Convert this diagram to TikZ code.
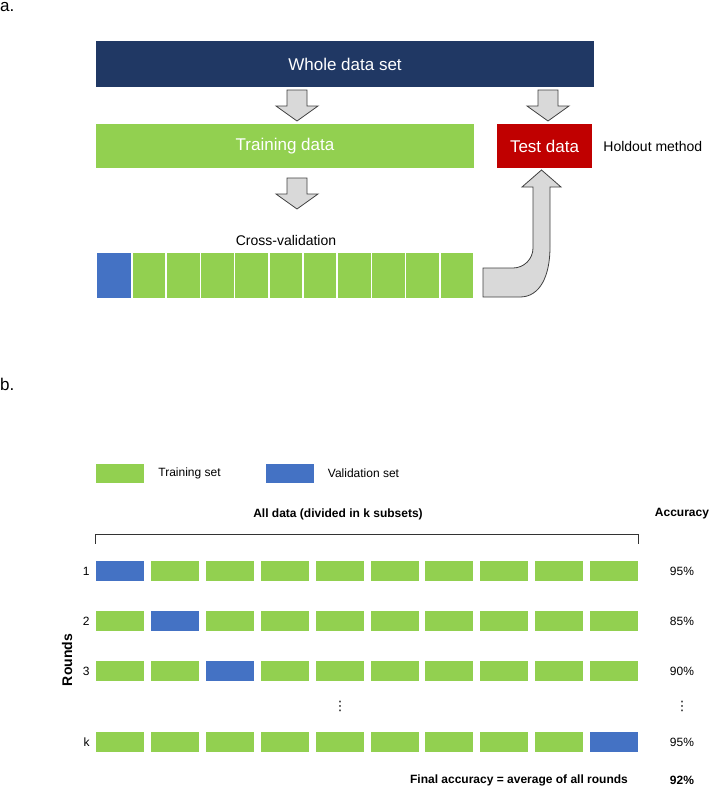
\documentclass[tikz,border=0pt]{standalone}
\usepackage{fontspec}
\setmainfont{Liberation Sans}
\newfontfamily\symfont{DejaVu Sans}
\usetikzlibrary{positioning,calc}

\definecolor{navy}{HTML}{203864}
\definecolor{trgreen}{HTML}{92D050}
\definecolor{valblue}{HTML}{4472C4}
\definecolor{testred}{HTML}{C00000}
\definecolor{arrowgray}{HTML}{D9D9D9}

\begin{document}
\begin{tikzpicture}[
x=1pt,
y=-1pt,
box/.style={
  draw=none,
  inner sep=0pt,
  text=white,
  font=\fontsize{17}{20}\selectfont
  },
cell/.style={
  fill=trgreen,
  draw=white,
  line width=1.5pt,
  inner sep=0pt,
  minimum height=46pt
  },
subset/.style={
  fill=trgreen,
  inner sep=0pt,
  minimum width=48pt,
  minimum height=20pt
  },
panel/.style={
  inner sep=0pt,
  font=\fontsize{17}{20}\selectfont
  },
label/.style={
  inner sep=0pt,
  font=\fontsize{14}{16}\selectfont
  },
small/.style={
  inner sep=0pt,
  font=\fontsize{12}{14}\selectfont
  },
bold/.style={
  inner sep=0pt,
  font=\fontsize{12}{14}\selectfont\bfseries
  },
vdots/.style={
  inner sep=0pt,
  font=\fontsize{13}{14}\symfont
  },
blockarrow/.style={
  fill=arrowgray,
  draw=black!75,
  line width=0.8pt,
  line join=miter
  },
blockdown/.pic={
  \draw[blockarrow] (-10,0) -- (10,0) -- (10,16) -- (21,16)
    -- (0,31) -- (-21,16) -- (-10,16) -- cycle;
  }
]
\useasboundingbox (0,0) rectangle (709,787);

% a. holdout and cross-validation
\node[panel, anchor=base west] (pa) at (0,12) {a.};

\node[box, fill=navy, minimum width=498pt, minimum height=46pt]
  (whole) at (345,64) {Whole data set};
\node[box, fill=trgreen, minimum width=378pt, minimum height=44pt]
  (train) at (285,146) {Training data};
\node[box, fill=testred, minimum width=95pt, minimum height=44pt]
  (test) at (544.5,146) {Test data};
\node[label, right=11pt of test] (holdout) {Holdout method};

\pic at (297,90) {blockdown};
\pic at (548,90) {blockdown};
\pic at (297,178) {blockdown};

\node[label] (cvtext) at (286,240) {Cross-validation};

\node[cell, fill=valblue, minimum width=36pt] (cv0) at (114,275.5) {};
\foreach \i in {1,...,10}
  \node[cell, minimum width=34.2pt] (cv\i) at ({132+34.2*(\i-0.5)},275.5) {};

% bent arrow back to the test data
\draw[blockarrow] (483,268) -- (513,268)
  .. controls (524,268) and (533,259) .. (533,248)
  -- (533,187) -- (522,187) -- (541.5,170) -- (561,187) -- (550,187)
  -- (550,247) .. controls (550,276) and (540,297) .. (520,297)
  -- (483,297) -- cycle;

% b. k-fold rounds
\node[panel, anchor=base west] (pb) at (0,390) {b.};

\node[subset, minimum height=19pt] (legtrain) at (120,473.5) {};
\node[small, right=14pt of legtrain] (legtraintext) {Training set};
\node[subset, fill=valblue, minimum height=19pt] (legval) at (289.5,473.5) {};
\node[small, right=14pt of legval] (legvaltext) {Validation set};

\node[bold] (alldata) at (338,514) {All data (divided in k subsets)};
\node[bold] (acchead) at (682,514) {Accuracy};

\foreach \r/\yy/\bl/\acc in {1/571/1/95,2/621/2/85,3/671/3/90,k/742/10/95}
{
  \foreach \c in {1,...,10}
    \node[subset] (r\r c\c) at ({120+54.9*(\c-1)},\yy) {};
  \node[subset, fill=valblue] at (r\r c\bl) {};
  \node[small, anchor=east] (lab\r) at ($(r\r c1.west)+(-6,0)$) {\r};
  \node[small] (acc\r) at (682,\yy) {\acc\%};
}

\draw[line width=1pt, black!80] ([yshift=17pt]r1c1.north west) -- ++(0,-9)
  -| ([yshift=17pt]r1c10.north east);

\node[bold, font=\fontsize{14}{16}\selectfont\bfseries, rotate=90]
  (rounds) at (67,660) {Rounds};

\node[vdots] (dots) at (340,706) {⋮};
\node[vdots] (accdots) at (682,706) {⋮};

\node[bold] (final) at (519,780) {Final accuracy = average of all rounds};
\node[bold] (finalacc) at (682,780) {92\%};
\end{tikzpicture}
\end{document}
